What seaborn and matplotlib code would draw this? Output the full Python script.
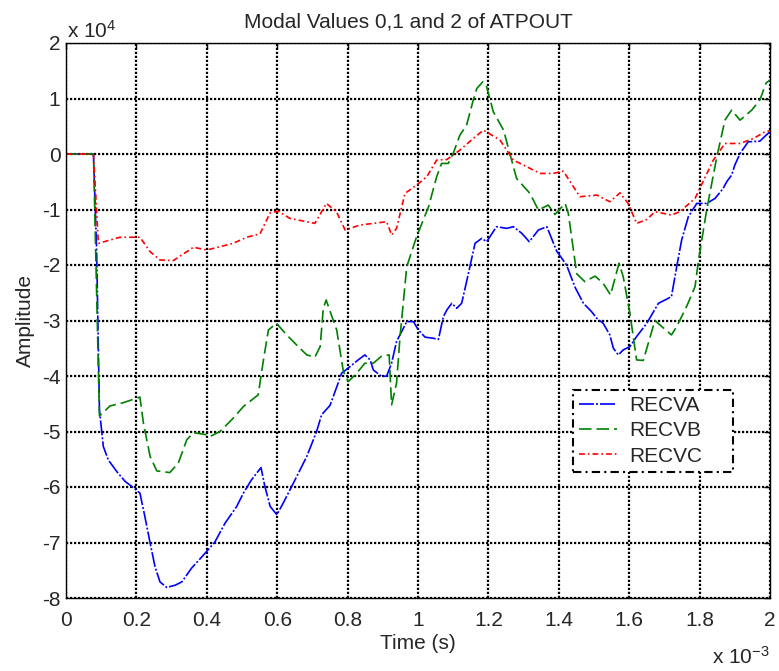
import numpy as np
import pandas as pd
import seaborn as sns
import matplotlib
matplotlib.use("Agg")
import matplotlib.pyplot as plt

# ---- data (time in ms, amplitude in units of 1e4) ----
t_a = [0, 0.078, 0.087, 0.095, 0.101, 0.106, 0.12, 0.144, 0.168, 0.187, 0.21, 0.224, 0.239, 0.253,
       0.267, 0.286, 0.31, 0.329, 0.357, 0.39, 0.423, 0.452, 0.485, 0.504, 0.527, 0.554, 0.565, 0.58,
       0.599, 0.617, 0.646, 0.684, 0.712, 0.726, 0.75, 0.773, 0.783, 0.807, 0.83, 0.849, 0.864, 0.873,
       0.897, 0.911, 0.925, 0.939, 0.968, 0.987, 1.001, 1.02, 1.043, 1.058, 1.072, 1.082, 1.096, 1.11,
       1.124, 1.138, 1.162, 1.181, 1.195, 1.223, 1.252, 1.271, 1.295, 1.316, 1.342, 1.366, 1.394, 1.422,
       1.446, 1.47, 1.493, 1.508, 1.526, 1.545, 1.555, 1.569, 1.583, 1.602, 1.621, 1.65, 1.683, 1.702,
       1.72, 1.735, 1.749, 1.768, 1.792, 1.82, 1.844, 1.867, 1.877, 1.891, 1.90, 1.915, 1.938, 1.971,
       1.989, 2.0]
recva = [0, 0, -1.73, -4.61, -4.97, -5.27, -5.51, -5.72, -5.90, -5.99, -6.11, -6.53, -7.01, -7.44,
         -7.71, -7.81, -7.77, -7.71, -7.46, -7.23, -6.99, -6.65, -6.35, -6.11, -5.87, -5.65, -5.99, -6.35,
         -6.50, -6.29, -5.93, -5.45, -5.00, -4.70, -4.53, -4.13, -3.95, -3.83, -3.71, -3.62, -3.71, -3.89,
         -4.01, -4.00, -3.77, -3.38, -3.02, -3.02, -3.17, -3.30, -3.32, -3.34, -2.93, -2.81, -2.69, -2.78,
         -2.69, -2.30, -1.61, -1.52, -1.58, -1.31, -1.34, -1.31, -1.43, -1.58, -1.37, -1.31, -1.75, -2.00,
         -2.40, -2.69, -2.84, -2.96, -3.05, -3.26, -3.50, -3.62, -3.53, -3.47, -3.29, -3.05, -2.69, -2.63,
         -2.57, -2.03, -1.55, -1.13, -0.89, -0.89, -0.80, -0.62, -0.50, -0.38, -0.20, 0.01, 0.22, 0.23,
         0.34, 0.40]

t_b = [0, 0.078, 0.095, 0.125, 0.163, 0.21, 0.22, 0.239, 0.258, 0.295, 0.319, 0.343, 0.362, 0.40,
       0.409, 0.4375, 0.475, 0.504, 0.546, 0.561, 0.575, 0.598, 0.627, 0.655, 0.684, 0.707, 0.722,
       0.731, 0.739, 0.755, 0.769, 0.788, 0.802, 0.826, 0.849, 0.873, 0.897, 0.918, 0.925, 0.939, 0.949,
       0.968, 0.996, 1.03, 1.053, 1.067, 1.086, 1.10, 1.119, 1.138, 1.157, 1.167, 1.184, 1.195, 1.214,
       1.243, 1.28, 1.318, 1.342, 1.37, 1.389, 1.418, 1.427, 1.451, 1.474, 1.503, 1.526, 1.547, 1.571,
       1.583, 1.602, 1.621, 1.64, 1.673, 1.72, 1.735, 1.763, 1.787, 1.797, 1.82, 1.849, 1.872, 1.891,
       1.915, 1.948, 1.971, 1.989, 2.0]
recvb = [0, 0, -4.72, -4.54, -4.48, -4.38, -4.85, -5.45, -5.71, -5.74, -5.57, -5.15, -5.02, -5.06,
         -5.09, -5.00, -4.76, -4.55, -4.34, -3.71, -3.17, -3.05, -3.26, -3.44, -3.62, -3.66, -3.47,
         -2.78, -2.63, -2.92, -3.17, -3.92, -4.10, -3.95, -3.77, -3.77, -3.64, -3.62, -4.52, -4.13, -3.29,
         -2.03, -1.49, -0.95, -0.41, -0.17, -0.17, 0.01, 0.34, 0.52, 0.97, 1.18, 1.30, 1.21, 0.76,
         0.43, -0.44, -0.71, -1.01, -0.92, -1.09, -0.89, -1.07, -2.16, -2.30, -2.20, -2.33, -2.54, -1.97,
         -2.21, -2.87, -3.71, -3.72, -3.00, -3.26, -3.11, -2.75, -2.39, -1.91, -1.01, -0.05, 0.61, 0.79,
         0.61, 0.79, 0.97, 1.28, 1.33]

t_c = [0, 0.078, 0.092, 0.153, 0.21, 0.239, 0.267, 0.305, 0.362, 0.40, 0.475, 0.513, 0.551, 0.58,
       0.603, 0.636, 0.707, 0.74, 0.769, 0.793, 0.835, 0.911, 0.925, 0.939, 0.963, 0.996, 1.025, 1.053,
       1.082, 1.119, 1.157, 1.186, 1.233, 1.271, 1.309, 1.347, 1.384, 1.413, 1.46, 1.508, 1.545, 1.574,
       1.597, 1.621, 1.65, 1.673, 1.72, 1.744, 1.787, 1.839, 1.872, 1.915, 1.953, 1.986, 2.0]
recvc = [0, 0, -1.61, -1.50, -1.50, -1.76, -1.91, -1.92, -1.68, -1.73, -1.61, -1.50, -1.44, -1.06,
         -1.03, -1.16, -1.25, -0.89, -1.05, -1.37, -1.28, -1.22, -1.46, -1.34, -0.71, -0.56, -0.41, -0.11,
         -0.10, 0.07, 0.28, 0.43, 0.25, -0.11, -0.23, -0.35, -0.35, -0.31, -0.77, -0.74, -0.86, -0.70,
         -0.89, -1.25, -1.18, -1.04, -1.10, -1.04, -0.80, -0.11, 0.19, 0.19, 0.28, 0.40, 0.42]

series_names = ["RECVA", "RECVB", "RECVC"]
x_ticks = [0, 0.2, 0.4, 0.6, 0.8, 1.0, 1.2, 1.4, 1.6, 1.8, 2.0]
x_tick_labels = ["0", "0.2", "0.4", "0.6", "0.8", "1", "1.2", "1.4", "1.6", "1.8", "2"]
y_ticks = [-8, -7, -6, -5, -4, -3, -2, -1, 0, 1, 2]
y_tick_labels = ["-8", "-7", "-6", "-5", "-4", "-3", "-2", "-1", "0", "1", "2"]

frames = []
for name, tt, vv in zip(series_names, [t_a, t_b, t_c], [recva, recvb, recvc]):
    frames.append(pd.DataFrame({"t": tt, "amp": vv, "series": name}))
df = pd.concat(frames, ignore_index=True)

# ---- style ----
sns.set_style("white")
plt.rcParams["font.family"] = ["Liberation Sans", "DejaVu Sans"]
plt.rcParams["mathtext.fontset"] = "custom"
plt.rcParams["mathtext.rm"] = "Liberation Sans"
plt.rcParams["mathtext.default"] = "regular"

FS = 15
fig = plt.figure(figsize=(7.79, 6.71), dpi=100)
ax = fig.add_axes([66 / 779, (671 - 598) / 671, (770 - 66) / 779, (598 - 43) / 671])

palette = {"RECVA": "#0000ff", "RECVB": "#008000", "RECVC": "#ff0000"}
dashes = {"RECVA": (9, 1.2, 1.2, 1.2), "RECVB": (7.5, 3), "RECVC": (3.5, 1.8, 1, 1.8)}

sns.lineplot(data=df, x="t", y="amp", hue="series", style="series", palette=palette,
             dashes=dashes, sort=False, estimator=None, units="series", lw=1.2,
             legend=False, ax=ax)

ax.set_xlim(0, 2)
ax.set_ylim(-8, 2)
ax.set_xticks(x_ticks)
ax.set_xticklabels(x_tick_labels, fontsize=FS)
ax.set_yticks(y_ticks)
ax.set_yticklabels(y_tick_labels, fontsize=FS)
ax.tick_params(direction="in", top=True, right=True, length=4, width=1, color="black")
ax.tick_params(axis="x", pad=9)
ax.tick_params(axis="y", pad=4)
ax.grid(True, color="black", linestyle=(0, (1, 0.8)), linewidth=1.6)
for s in ax.spines.values():
    s.set_color("black")
    s.set_linewidth(1.0)

ax.set_title("Modal Values 0,1 and 2 of ATPOUT", fontsize=FS, pad=11, x=0.487)
ax.set_xlabel("Time (s)", fontsize=FS, labelpad=3)
ax.set_ylabel("Amplitude", fontsize=FS, labelpad=5)

fig.text(67 / 779, 1 - 38 / 671, r"x $10^{4}$", fontsize=FS, ha="left", va="baseline")
fig.text(770 / 779, 1 - 664 / 671, r"x $10^{-3}$", fontsize=FS, ha="right", va="baseline")

leg = ax.legend(ax.lines[:3], series_names, loc="upper left",
                bbox_to_anchor=(0.72, 0.225, 0.227, 0.15), mode="expand",
                borderaxespad=0, fontsize=FS, fancybox=False, framealpha=1, edgecolor="black",
                handlelength=1.8, labelspacing=0.3, handletextpad=0.6, borderpad=0.3)
leg.get_frame().set_linestyle((0, (4, 2, 1, 2)))
leg.get_frame().set_linewidth(1.5)

fig.savefig("out.png", dpi=100)
